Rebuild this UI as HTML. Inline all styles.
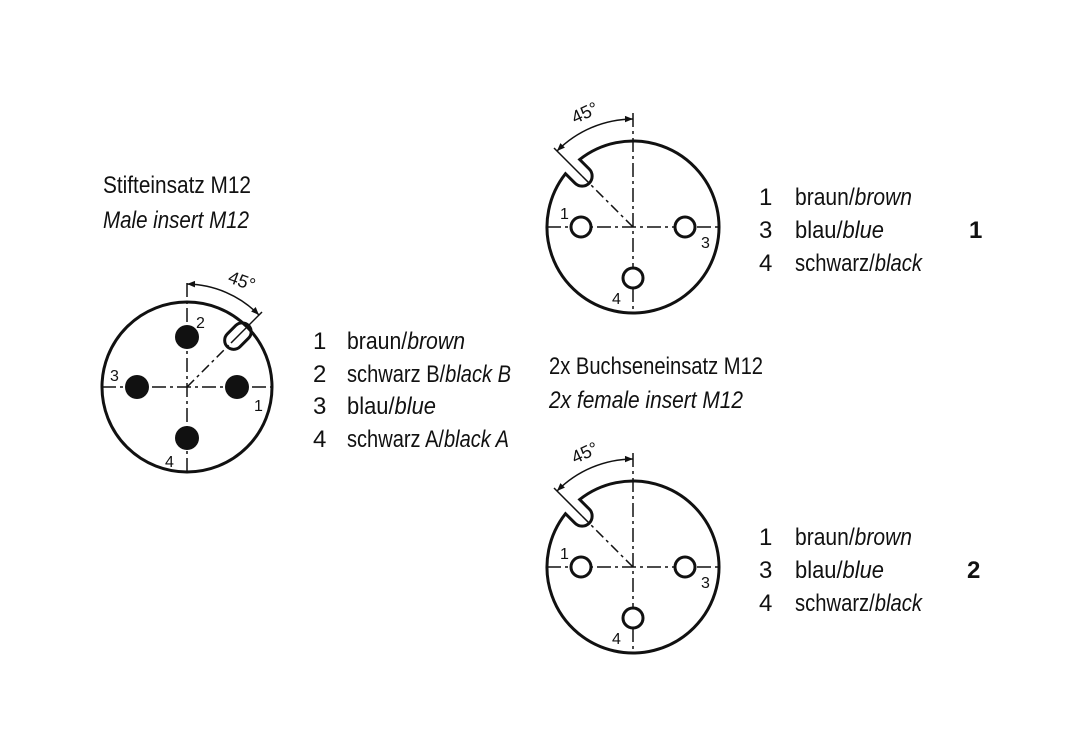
<!DOCTYPE html>
<html><head><meta charset="utf-8"><style>
html,body{margin:0;padding:0;background:#fff}
svg{display:block}
text{font-family:"Liberation Sans Narrow","Liberation Sans",sans-serif;fill:#111}
.i{font-style:italic}
</style></head><body>
<svg width="1082" height="756" viewBox="0 0 1082 756" xmlns="http://www.w3.org/2000/svg">
<defs>
<marker id="ar" viewBox="0 0 10 10" refX="10" refY="5" markerWidth="12" markerHeight="8" markerUnits="userSpaceOnUse" orient="auto">
<path d="M0,1 L10,5 L0,9 Z" fill="#111"/></marker>
<g id="fem">
  <line x1="547" y1="227" x2="720" y2="227" stroke="#111" stroke-width="1.5" stroke-dasharray="14,4,3,4"/>
  <line x1="633" y1="113" x2="633" y2="313" stroke="#111" stroke-width="1.5" stroke-dasharray="14,4,3,4"/>
  <line x1="633" y1="227" x2="582" y2="176" stroke="#111" stroke-width="1.5" stroke-dasharray="10,4,3,4"/>
  <line x1="582" y1="176" x2="554" y2="148" stroke="#111" stroke-width="1.5"/>
  <path d="M579.7,159.5 A86,86 0 1 1 565.5,173.7 L575.0,183.2 A10,10 0 0 0 589.2,169.0 Z" fill="none" stroke="#111" stroke-width="3"/>
  <circle cx="581" cy="227" r="10" fill="#fff" stroke="#111" stroke-width="3"/>
  <circle cx="685" cy="227" r="10" fill="#fff" stroke="#111" stroke-width="3"/>
  <circle cx="633" cy="278" r="10" fill="#fff" stroke="#111" stroke-width="3"/>
  <path d="M557,151 A108,108 0 0 1 633,119" fill="none" stroke="#111" stroke-width="1.5" marker-end="url(#ar)"/>
  <path d="M633,119 A108,108 0 0 0 557,151" fill="none" stroke="none" marker-end="url(#ar)"/>
  <text x="0" y="0" font-size="18" transform="translate(575,124) rotate(-25)">45°</text>
  <text x="560" y="219" font-size="16">1</text>
  <text x="701" y="248" font-size="16">3</text>
  <text x="612" y="304" font-size="16">4</text>
</g>
</defs>

<line x1="102" y1="387" x2="272" y2="387" stroke="#111" stroke-width="1.5" stroke-dasharray="14,4,3,4"/>
<line x1="187" y1="283" x2="187" y2="472" stroke="#111" stroke-width="1.5" stroke-dasharray="14,4,3,4"/>
<line x1="187" y1="387" x2="231" y2="343" stroke="#111" stroke-width="1.5" stroke-dasharray="10,4,3,4"/>
<line x1="231" y1="343" x2="262" y2="312" stroke="#111" stroke-width="1.5"/>
<circle cx="187" cy="387" r="85" fill="none" stroke="#111" stroke-width="3"/>
<rect x="57" y="-9" width="30" height="18" rx="9" fill="none" stroke="#111" stroke-width="3" transform="translate(187,387) rotate(-45)"/>
<circle cx="187" cy="337" r="12" fill="#111"/>
<circle cx="137" cy="387" r="12" fill="#111"/>
<circle cx="237" cy="387" r="12" fill="#111"/>
<circle cx="187" cy="438" r="12" fill="#111"/>
<path d="M259,315 A103,103 0 0 0 187,284" fill="none" stroke="#111" stroke-width="1.5" marker-end="url(#ar)"/>
<path d="M187,284 A103,103 0 0 1 259,315" fill="none" stroke="none" marker-end="url(#ar)"/>
<text font-size="18" transform="translate(227,282) rotate(20)">45°</text>
<text x="196" y="328" font-size="16">2</text>
<text x="110" y="381" font-size="16">3</text>
<text x="254" y="411" font-size="16">1</text>
<text x="165" y="467" font-size="16">4</text>

<text x="103" y="193" font-size="24" textLength="148" lengthAdjust="spacingAndGlyphs">Stifteinsatz M12</text>
<text x="103" y="228" font-size="24" class="i" textLength="146" lengthAdjust="spacingAndGlyphs">Male insert M12</text>

<g font-size="24">
<text x="313" y="349">1</text><text x="347" y="349" textLength="118" lengthAdjust="spacingAndGlyphs">braun/<tspan class="i">brown</tspan></text>
<text x="313" y="382">2</text><text x="347" y="382" textLength="164" lengthAdjust="spacingAndGlyphs">schwarz B/<tspan class="i">black B</tspan></text>
<text x="313" y="414">3</text><text x="347" y="414" textLength="89" lengthAdjust="spacingAndGlyphs">blau/<tspan class="i">blue</tspan></text>
<text x="313" y="447">4</text><text x="347" y="447" textLength="162" lengthAdjust="spacingAndGlyphs">schwarz A/<tspan class="i">black A</tspan></text>
</g>

<use href="#fem"/>
<use href="#fem" transform="translate(0,340)"/>

<text x="549" y="374" font-size="24" textLength="214" lengthAdjust="spacingAndGlyphs">2x Buchseneinsatz M12</text>
<text x="549" y="408" font-size="24" class="i" textLength="194" lengthAdjust="spacingAndGlyphs">2x female insert M12</text>

<g font-size="24">
<text x="759" y="205">1</text><text x="795" y="205" textLength="117" lengthAdjust="spacingAndGlyphs">braun/<tspan class="i">brown</tspan></text>
<text x="759" y="238">3</text><text x="795" y="238" textLength="89" lengthAdjust="spacingAndGlyphs">blau/<tspan class="i">blue</tspan></text>
<text x="759" y="271">4</text><text x="795" y="271" textLength="127" lengthAdjust="spacingAndGlyphs">schwarz/<tspan class="i">black</tspan></text>
<text x="969" y="238" font-weight="bold">1</text>
<text x="759" y="545">1</text><text x="795" y="545" textLength="117" lengthAdjust="spacingAndGlyphs">braun/<tspan class="i">brown</tspan></text>
<text x="759" y="578">3</text><text x="795" y="578" textLength="89" lengthAdjust="spacingAndGlyphs">blau/<tspan class="i">blue</tspan></text>
<text x="759" y="611">4</text><text x="795" y="611" textLength="127" lengthAdjust="spacingAndGlyphs">schwarz/<tspan class="i">black</tspan></text>
<text x="967" y="578" font-weight="bold">2</text>
</g>
</svg>
</body></html>
